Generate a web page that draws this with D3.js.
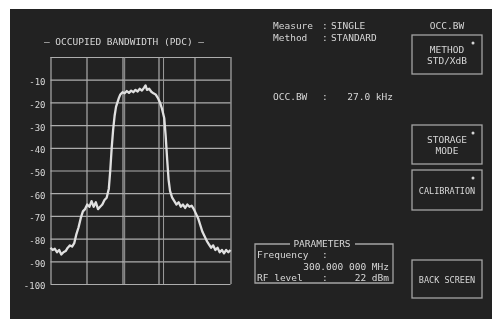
<!DOCTYPE html>
<html>
<head>
<meta charset="utf-8">
<script src="https://cdn.jsdelivr.net/npm/d3@7"></script>
<style>
  body { margin: 0; background: #fff; }
  svg { display: block; }
  text { font-family: "DejaVu Sans Mono", monospace; font-size: 9.5px; fill: #d6d6d6; }
</style>
</head>
<body>
<div id="myChart"></div>
<script>
// trace (offset from centre in kHz, level in dB)
const traceFreq = [-62.5, -61, -59.5, -58, -56.5, -55, -53.5, -52, -50.5, -49, -47.5, -46,
  -44.5, -43, -41.5, -40, -38.5, -37, -35.5, -34, -32.5, -31, -29.5, -28, -26.5, -25, -23.5,
  -22, -21, -20, -19, -18, -17, -16, -15, -14, -12.5, -11, -9.5, -8, -6.5, -5, -3.5, -2,
  -0.5, 1, 2.5, 3.5, 4.5, 6, 7.5, 9, 10.5, 12, 13.5, 15, 16.5, 17.5, 18.5, 19.5, 20.5, 22,
  23.5, 25, 26.5, 28, 29.5, 31, 32.5, 34, 35.5, 37, 38.5, 40, 41.5, 43, 44.5, 46, 47.5, 49,
  50.5, 52, 53.5, 55, 56.5, 58, 59.5, 61, 62.5];
const traceLevel = [-84, -85, -84.5, -86, -85, -87, -86, -85.5, -84, -83, -83.5, -82,
  -78, -75, -71, -68, -67, -65, -66, -63.5, -66, -64, -67, -66, -65, -63, -62,
  -58, -50, -40, -32, -26, -22, -20, -18, -16.5, -15.5, -16, -15, -15.8, -14.8, -15.5, -14.5, -15.2,
  -14, -14.8, -13.5, -12.5, -14.5, -14, -15.3, -16, -16.5, -18, -20, -23, -27, -35, -45, -54, -59, -62,
  -63.5, -65, -64, -66, -65, -66.5, -65, -66, -65.5, -67, -69, -71, -74, -77, -79, -81, -82.5, -84,
  -83, -85, -84, -86, -85, -86.5, -85, -86, -85];

const levelTicks = [-10, -20, -30, -40, -50, -60, -70, -80, -90, -100];
const levelGrid = [0, -10, -20, -30, -40, -50, -60, -70, -80, -90, -100];
const freqGrid = [-62.5, -37.5, -12.5, 12.5, 37.5, 62.5];
const obwMarkers = [-11, 16]; // occupied bandwidth edges, 27.0 kHz apart

let W = 492, H = 319;
let plot = { left: 50.5, right: 230.5, top: 57, bottom: 284 };

let svg = d3.select('#myChart').append('svg')
  .attr('width', W).attr('height', H);

// soft blur to imitate the photographed screen
let defs = svg.append('defs');
defs.append('filter').attr('id', 'soft')
  .append('feGaussianBlur').attr('stdDeviation', 0.6);

svg.append('rect').attr('x', 10).attr('y', 9).attr('width', W - 10).attr('height', H - 9)
  .attr('fill', '#222222');

let g = svg.append('g').attr('filter', 'url(#soft)');

let x = d3.scaleLinear().domain([-62.5, 62.5]).range([plot.left, plot.right]);
let y = d3.scaleLinear().domain([0, -100]).range([plot.top, plot.bottom]);

// horizontal grid
g.append('g')
  .attr('transform', 'translate(' + plot.left + ',0)')
  .call(d3.axisLeft(y).tickValues(levelGrid).tickSize(-(plot.right - plot.left)).tickFormat(''))
  .call(a => a.select('.domain').remove())
  .selectAll('line').attr('stroke', '#adadad').attr('stroke-width', 1.2);

// vertical grid
g.append('g')
  .attr('transform', 'translate(0,' + plot.bottom + ')')
  .call(d3.axisBottom(x).tickValues(freqGrid).tickSize(-(plot.bottom - plot.top)).tickFormat(''))
  .call(a => a.select('.domain').remove())
  .selectAll('line').attr('stroke', '#adadad').attr('stroke-width', 1.2);

// OBW markers
g.append('g').selectAll('line').data(obwMarkers).enter().append('line')
  .attr('x1', d => x(d)).attr('x2', d => x(d))
  .attr('y1', plot.top).attr('y2', plot.bottom)
  .attr('stroke', '#9c9c9c').attr('stroke-width', 1);

// level labels
let yAxis = g.append('g')
  .attr('transform', 'translate(' + (plot.left - 5) + ',0)')
  .call(d3.axisLeft(y).tickValues(levelTicks).tickSize(0).tickPadding(0).tickFormat(d => d));
yAxis.select('.domain').remove();
yAxis.selectAll('text')
  .attr('dy', '0.55em')
  .style('font-family', '"DejaVu Sans Mono", monospace')
  .style('font-size', '9px')
  .attr('fill', '#cacaca');

// trace
let traceData = traceFreq.map((f, i) => [f, traceLevel[i]]);
g.append('path')
  .datum(traceData)
  .attr('fill', 'none')
  .attr('stroke', '#e0e0e0')
  .attr('stroke-width', 2.3)
  .attr('stroke-linejoin', 'round')
  .attr('d', d3.line().x(d => x(d[0])).y(d => y(d[1])));

// title
g.append('text').attr('x', 124).attr('y', 45).attr('text-anchor', 'middle')
  .text('\u2014 OCCUPIED BANDWIDTH (PDC) \u2014');

// measure info
function txt(px, py, s, anchor) {
  return g.append('text').attr('x', px).attr('y', py)
    .attr('text-anchor', anchor || 'start').text(s);
}
txt(273, 29, 'Measure');
txt(322, 29, ':');
txt(331, 29, 'SINGLE');
txt(273, 41, 'Method');
txt(322, 41, ':');
txt(331, 41, 'STANDARD');

txt(273, 100, 'OCC.BW');
txt(322, 100, ':');
txt(393, 100, '27.0 kHz', 'end');

txt(447, 29, 'OCC.BW', 'middle');

// soft key boxes
const keyLabels = [['METHOD', 'STD/XdB'], ['STORAGE', 'MODE'], ['CALIBRATION'], ['BACK SCREEN']];
const keyTop = [35, 125, 170, 260];
const keyBottom = [74, 164, 210, 298];
const keyStar = [true, true, true, false];
keyLabels.forEach((lines, i) => {
  g.append('rect').attr('x', 412).attr('y', keyTop[i]).attr('width', 70)
    .attr('height', keyBottom[i] - keyTop[i])
    .attr('fill', 'none').attr('stroke', '#a4a4a4').attr('stroke-width', 1.3);
  let mid = (keyTop[i] + keyBottom[i]) / 2;
  lines.forEach((s, j) => {
    let yy = mid + 3.5 + (j - (lines.length - 1) / 2) * 11;
    g.append('text').attr('x', 447).attr('y', yy).attr('text-anchor', 'middle')
      .style('font-size', lines[0].length > 9 ? '8.5px' : '9.5px').text(s);
  });
  if (keyStar[i]) {
    g.append('circle').attr('cx', 473).attr('cy', keyTop[i] + 8).attr('r', 1.5).attr('fill', '#d4d4d4');
  }
});

// parameters box
let pb = { x: 255, y: 244, w: 138, h: 39 };
g.append('path')
  .attr('d', 'M' + 290 + ',' + pb.y + 'H' + pb.x + 'V' + (pb.y + pb.h) + 'H' + (pb.x + pb.w) +
    'V' + pb.y + 'H' + 355)
  .attr('fill', 'none').attr('stroke', '#a4a4a4').attr('stroke-width', 1.3);
txt(322, 247, 'PARAMETERS', 'middle');
txt(257, 258, 'Frequency');
txt(322, 258, ':');
txt(389, 270, '300.000 000 MHz', 'end');
txt(257, 281, 'RF level');
txt(322, 281, ':');
txt(389, 281, '22 dBm', 'end');
</script>
</body>
</html>
